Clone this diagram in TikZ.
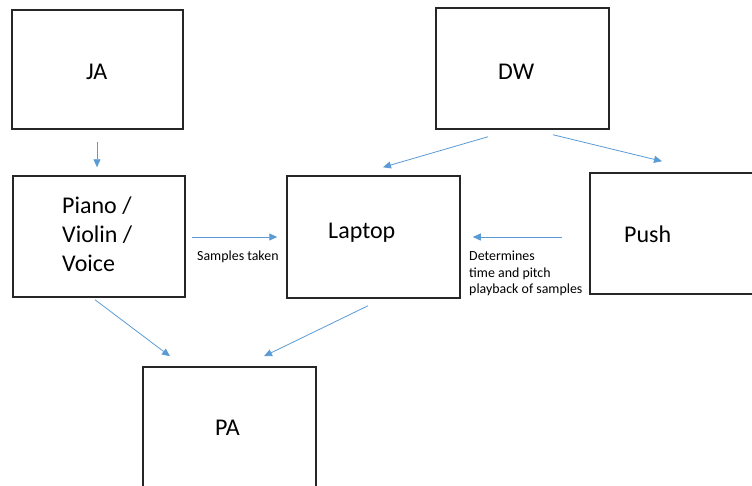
\documentclass[tikz,border=0pt]{standalone}
\usepackage{fontspec}
\setmainfont{Carlito}
\usetikzlibrary{arrows.meta}
\definecolor{flowblue}{HTML}{5B9BD5}
\definecolor{boxline}{HTML}{262626}
\tikzset{
  unitbox/.style={draw=boxline, line width=1.5pt, minimum width=173pt, minimum height=121pt, inner sep=0pt, fill=white},
  bigtext/.style={inner sep=0pt, anchor=base west, font=\fontsize{24}{29}\selectfont},
  smalltext/.style={inner sep=0pt, anchor=base west, font=\fontsize{13.9}{16.4}\selectfont, align=left},
  flow/.style={draw=flowblue, line width=0.8pt, -{Triangle[length=8pt,width=7pt]}}
}
\begin{document}
\begin{tikzpicture}[x=1pt,y=1pt]
  \useasboundingbox (0,0) rectangle (752,-485);
  \clip (0,0) rectangle (752,-485);
  \fill[white] (0,0) rectangle (752,-485);

  % boxes
  \node[unitbox, minimum width=171pt, minimum height=119pt] (ja) at (97.5,-69.5) {};
  \node[unitbox, minimum width=172pt] (piano) at (99,-236.5) {};
  \node[unitbox, minimum height=122pt] (laptop) at (373.5,-237) {};
  \node[unitbox] (dw) at (522.5,-68.5) {};
  \node[unitbox] (push) at (676.5,-233.5) {};
  \node[unitbox] (pa) at (229.5,-427.5) {};

  % box labels
  \node[bigtext] (jaT) at (86,-79.3) {JA};
  \node[bigtext] (dwT) at (498,-79) {DW};
  \node[bigtext] (laptopT) at (328,-238.3) {Laptop};
  \node[bigtext] (pushT) at (624,-242.7) {Push};
  \node[bigtext] (paT) at (215,-435.7) {PA};
  \node[bigtext] (pianoT1) at (62,-213.3) {Piano /};
  \node[bigtext] (pianoT2) at (62,-242.5) {Violin /};
  \node[bigtext] (pianoT3) at (62,-271.7) {Voice};

  % connector labels
  \node[smalltext] (samples) at (197,-260.7) {Samples taken};
  \node[smalltext] (determ1) at (469,-260.7) {Determines};
  \node[smalltext] (determ2) at (469,-277) {time and pitch};
  \node[smalltext] (determ3) at (469,-293.3) {playback of samples};

  % connectors
  \draw[flow] ([shift={(-0.5,-12)}]ja.south) -- ([shift={(-2,8)}]piano.north);
  \draw[flow] ([shift={(6,-0.5)}]piano.east) -- ([shift={(-9,0)}]laptop.west);
  \draw[flow] ([shift={(-27,-3.5)}]push.west) -- ([shift={(12,0)}]laptop.east);
  \draw[flow] ([shift={(-34.5,-7)}]dw.south) -- ([shift={(9.5,8)}]laptop.north);
  \draw[flow] ([shift={(30.5,-5)}]dw.south) -- ([shift={(-14.5,11)}]push.north);
  \draw[flow] ([shift={(-4,-2)}]piano.south) -- ([shift={(-59.5,10)}]pa.north);
  \draw[flow] ([shift={(-5.5,-7)}]laptop.south) -- ([shift={(34.5,10)}]pa.north);
\end{tikzpicture}
\end{document}
